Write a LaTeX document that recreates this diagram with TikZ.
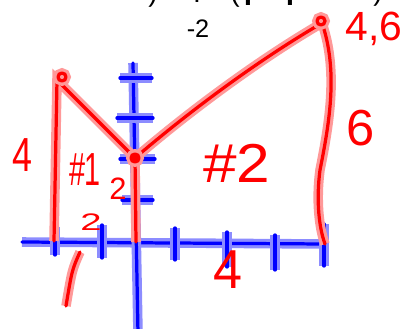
\documentclass[tikz,border=0pt]{standalone}
\usepackage{fontspec}
\setmainfont{Liberation Sans}
\usetikzlibrary{calc}
\newcommand\fsz[1]{\fontsize{#1}{#1}\selectfont}
\tikzset{
  bluepen/.style = {draw=blue, line width=2.3pt, line cap=round, line join=round,
                    preaction={draw=blue!45, line width=6.8pt}},
  redpen/.style  = {draw=red, line width=2.3pt, line cap=round, line join=round,
                    preaction={draw=red!40, line width=6.8pt}},
  hand/.style    = {text=red, inner sep=0pt},
  print/.style   = {text=black, inner sep=0pt},
}

\begin{document}
\begin{tikzpicture}[x=0.025cm,y=-0.025cm]
\useasboundingbox (0,0) rectangle (406,328);
\clip (0,0) rectangle (406,328);
% printed line, cut off at the top
\node[print,anchor=south,font=\fsz{20}] (pa) at (153,8) {)};
\node[print,anchor=south,font=\fsz{20}] (pb) at (197,3) {.};
\node[print,anchor=south,font=\fsz{20}] (pc) at (235,8) {(};
\node[print,anchor=south,font=\fsz{20}\bfseries] (pd) at (248,6) {I};
\node[print,anchor=south,font=\fsz{20}\bfseries] (pe) at (290,6) {I};
\node[print,anchor=south,font=\fsz{20}] (pf) at (378,7) {)};
\node[print,font=\fsz{18}] (m2) at (198,29) {-2};
% axes
\coordinate (xl) at (22,242); \coordinate (xr) at (325,244);
\coordinate (yt) at (133,63); \coordinate (yb) at (138,334);
\draw[bluepen] (xl) -- (xr);
\draw[bluepen] (yt) -- (yb);
\foreach \y/\l/\r in {78/120/152,118/117/153,159/120/155,200/122/153}
  \draw[bluepen] (\l,\y) -- (\r,\y);
\foreach \x/\t/\b in {55/227/255,102/225/258,175/228/260,227/232/267,275/235/270,324/224/266}
  \draw[bluepen] (\x,\t) -- (\x,\b);
% the region
\coordinate (A) at (54,241);
\coordinate (B) at (57,80);
\coordinate (C) at (135,158);
\coordinate (D) at (322,23);
\coordinate (E) at (325,244);
\coordinate (F) at (136,242);
\draw[redpen] (A) -- (B) -- (C) .. controls (185,115) and (255,62) .. (D)
  .. controls (338,70) and (330,120) .. (320,170) .. controls (316,200) and (319,228) .. (E);
\draw[redpen] (C) -- (F);
\draw[redpen] (62,77) circle[radius=4];
\draw[redpen] (321,21) circle[radius=4];
\draw[redpen,fill=red] (C) circle[radius=4];
\draw[redpen] (80,252) .. controls (72,270) .. (66,306);
% labels
\node[hand,font=\fsz{34}] (h4) at (22,155) {\scalebox{0.75}[1]{4}};
\node[hand,font=\fsz{33}] (n1) at (85,170) {\scalebox{0.62}[1]{\#1}};
\node[hand,font=\fsz{22}] (s2) at (118,189) {2};
\node[hand,font=\fsz{17}] (b2) at (91,222) {\scalebox{1.6}[1]{2}};
\node[hand,font=\fsz{39}] (n2) at (237,163) {\scalebox{1.1}[1]{\#2}};
\node[hand,font=\fsz{36}] (r6) at (361,128) {6};
\node[hand,font=\fsz{39}] (b4) at (228,270) {\scalebox{0.95}[1]{4}};
\node[hand,font=\fsz{29}] (p46) at (374,29) {4,6};
\end{tikzpicture}
\end{document}
